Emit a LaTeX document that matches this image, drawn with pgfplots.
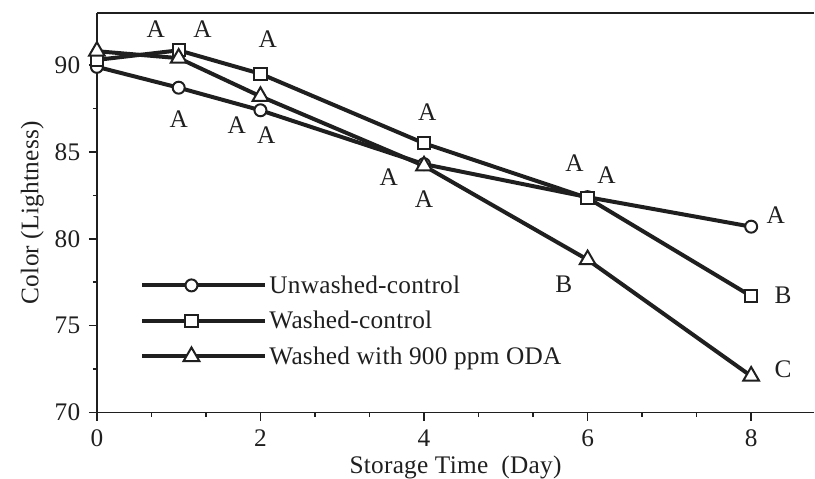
\documentclass[border=0pt]{standalone}
\usepackage{fontspec}
\setmainfont{Liberation Serif}[LetterSpace=1]
\usepackage{pgfplots}
\pgfplotsset{compat=1.18}
\newcommand\fs{\fontsize{19}{22.8}\selectfont}
\definecolor{ink}{gray}{0.12}

\begin{document}
\begin{tikzpicture}
\begin{axis}[
    scale only axis,
    width=538.5pt, height=300pt,
    xmin=0, xmax=8.77,
    ymin=70, ymax=93,
    axis x line*=box, axis y line*=left,
    tick pos=left,
    xtick={0,2,4,6,8}, minor x tick num=2,
    ytick={70,75,80,85,90}, minor y tick num=1,
    tick align=outside,
    major tick length=6pt, minor tick length=3pt,
    axis line style={line width=1.3pt, ink},
    every tick/.style={line width=1.2pt, ink},
    tick label style={font=\fs, ink},
    xticklabel style={yshift=-6pt, inner sep=1pt},
    yticklabel style={xshift=-3pt},
    label style={font=\fs, ink},
    /pgf/number format/assume math mode=true,
    xlabel={Storage Time\ \ (Day)},
    ylabel={Color (Lightness)},
    xlabel style={at={(axis description cs:0.5,0)}, anchor=center,
        yshift=-41pt, inner sep=0pt},
    ylabel style={at={(axis description cs:-0.09,0.5)}, anchor=center},
    clip=false,
    legend image code/.code={
        \path (0pt,0pt) -- (92pt,0pt);
        \draw[#1, mark repeat=2, mark phase=2]
            plot coordinates {(0pt,0pt) (37pt,0pt) (74pt,0pt)};
    },
    legend style={at={(rel axis cs:0.06,0.35)}, anchor=north west,
        draw=none, fill=none, font=\fs, text=ink, inner sep=0pt,
        row sep=8pt},
    legend cell align=left,
    every axis plot/.append style={line width=3pt, ink,
        mark options={solid, fill=white, line width=1.5pt}},
]
% Unwashed-control
\addplot[mark=*, mark size=4.5pt] coordinates {
    (0,89.9) (1,88.7) (2,87.4) (4,84.3) (6,82.4) (8,80.7)
};
\addlegendentry{Unwashed-control}
% Washed-control
\addplot[mark=square*, mark size=4.6pt] coordinates {
    (0,90.3) (1,90.85) (2,89.5) (4,85.5) (6,82.35) (8,76.7)
};
\addlegendentry{Washed-control}
% Washed with ODA
\addplot[mark=triangle*, mark size=6.8pt] coordinates {
    (0,90.8) (1,90.4) (2,88.2) (4,84.2) (6,78.8) (8,72.1)
};
\addlegendentry{Washed with 900 ppm ODA}

% significance letters
\node[font=\fs, text=ink] at (axis cs:0.72,92.07) {A};
\node[font=\fs, text=ink] at (axis cs:1.29,92.07) {A};
\node[font=\fs, text=ink] at (axis cs:2.09,91.5) {A};
\node[font=\fs, text=ink] at (axis cs:1.0,86.9) {A};
\node[font=\fs, text=ink] at (axis cs:1.71,86.55) {A};
\node[font=\fs, text=ink] at (axis cs:2.07,85.98) {A};
\node[font=\fs, text=ink] at (axis cs:4.04,87.3) {A};
\node[font=\fs, text=ink] at (axis cs:3.57,83.56) {A};
\node[font=\fs, text=ink] at (axis cs:4.0,82.3) {A};
\node[font=\fs, text=ink] at (axis cs:5.84,84.37) {A};
\node[font=\fs, text=ink] at (axis cs:6.23,83.68) {A};
\node[font=\fs, text=ink] at (axis cs:8.3,81.38) {A};
\node[font=\fs, text=ink] at (axis cs:5.71,77.36) {B};
\node[font=\fs, text=ink] at (axis cs:8.39,76.78) {B};
\node[font=\fs, text=ink] at (axis cs:8.39,72.47) {C};
\end{axis}
\path (current axis.south west) ++(-72.75pt,-48pt)
    rectangle ([yshift=9.75pt]current axis.north east);
\end{tikzpicture}
\end{document}
